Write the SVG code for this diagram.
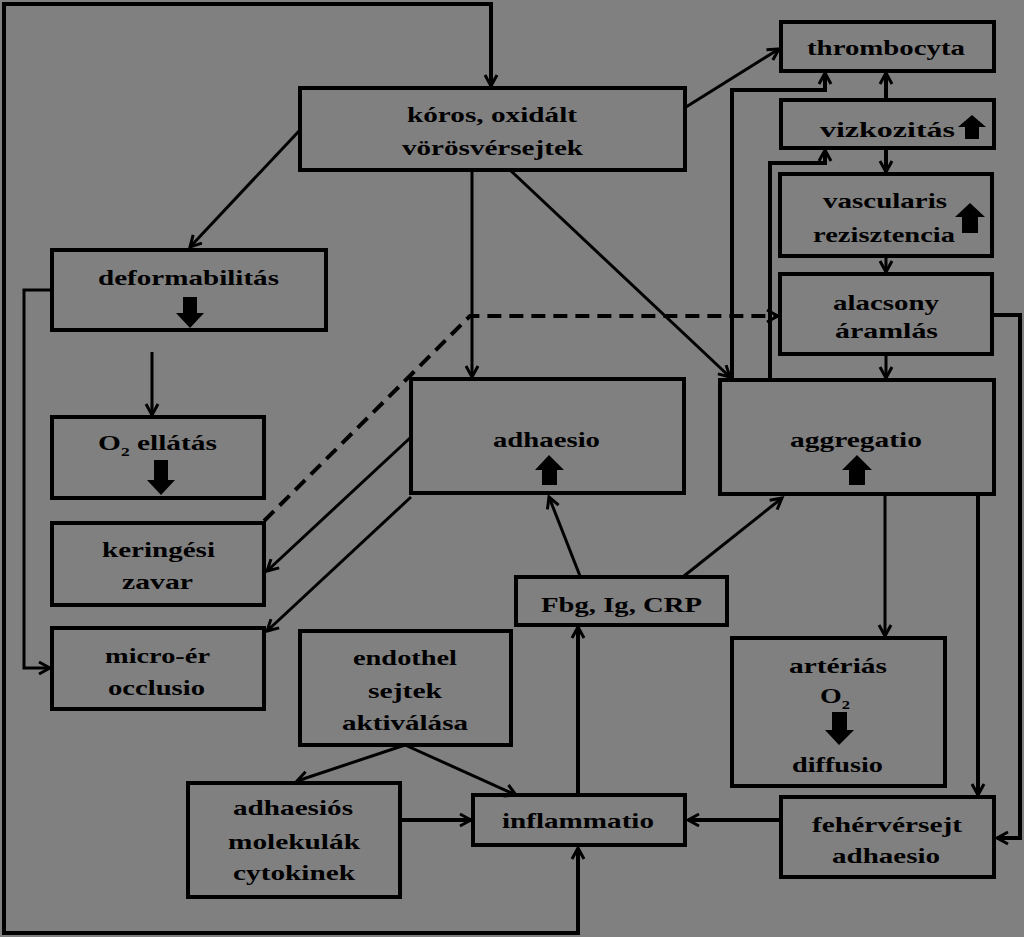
<svg xmlns="http://www.w3.org/2000/svg" width="1024" height="937" viewBox="0 0 1024 937">
<style>
.bg{fill:#808080}
.box{fill:none;stroke:#000;stroke-width:4}
.t{font-family:"Liberation Serif","Times New Roman",serif;font-weight:bold;font-size:22px;fill:#000}
.sub{font-size:13px}
.c{fill:none;stroke:#000;stroke-width:3;marker-end:url(#ah)}
.thick{stroke-width:4}
.dash{stroke-dasharray:14 8;stroke-width:4}
.blk{fill:#000}
</style>
<defs>
<marker id="ah" markerUnits="userSpaceOnUse" markerWidth="16" markerHeight="16" refX="13" refY="8" orient="auto-start-reverse">
<path d="M2,2 L13,8 L2,14" fill="none" stroke="#000" stroke-width="3"/>
</marker>
</defs>
<rect class="bg" x="0" y="0" width="1024" height="937"/>

<g id="connectors">
<path class="c thick" style="marker-start:url(#ah)" d="M578,848 L578,933 L4,933 L4,4 L491,4 L491,86"/>
<path class="c" d="M300,130 L190,247"/>
<path class="c" d="M472,170 L472,377"/>
<path class="c" d="M510,170 L730,377"/>
<path class="c" d="M686,107 L779,49"/>
<path class="c thick" d="M732,380 L732,90 L825,90 L825,73"/>
<path class="c thick" d="M770,380 L770,163 L825,163 L825,150"/>
<path class="c thick" d="M886,100 L886,73"/>
<path class="c thick" d="M886,148 L886,172"/>
<path class="c" d="M886,256 L886,272"/>
<path class="c" d="M886,354 L886,378"/>
<path class="c dash" d="M264,521 L470,316 L778,316"/>
<path class="c thick" d="M994,315 L1020,315 L1020,838 L997,838"/>
<path class="c" d="M885,494 L885,636"/>
<path class="c thick" d="M978,494 L978,795"/>
<path class="c thick" d="M781,820 L688,820"/>
<path class="c thick" d="M578,795 L578,627"/>
<path class="c" d="M580,576 L549,497"/>
<path class="c" d="M684,576 L782,498"/>
<path class="c" d="M410,438 L267,571"/>
<path class="c" d="M411,497 L267,631"/>
<path class="c" d="M52,290 L24,290 L24,668 L50,668"/>
<path class="c" d="M152,352 L152,415"/>
<path class="c" d="M405,745 L297,781"/>
<path class="c" d="M405,745 L516,795"/>
<path class="c thick" d="M400,820 L471,820"/>
</g>

<g id="koros"><rect class="box" x="300" y="88" width="385" height="82"/>
<text class="t" x="407" y="122" textLength="170" lengthAdjust="spacingAndGlyphs">kóros, oxidált</text>
<text class="t" x="402" y="155" textLength="181" lengthAdjust="spacingAndGlyphs">vörösvérsejtek</text></g>

<g id="thrombocyta"><rect class="box" x="781" y="22" width="213" height="49"/>
<text class="t" x="807" y="55" textLength="158" lengthAdjust="spacingAndGlyphs">thrombocyta</text></g>

<g id="vizkozitas"><rect class="box" x="781" y="100" width="213" height="48"/>
<text class="t" x="820" y="137" textLength="135" lengthAdjust="spacingAndGlyphs">vizkozitás</text>
<path class="blk" d="M972,115 L986,127 L979,127 L979,139 L965,139 L965,127 L958,127 Z"/></g>

<g id="vascularis"><rect class="box" x="780" y="174" width="212" height="82"/>
<text class="t" x="823" y="208" textLength="124" lengthAdjust="spacingAndGlyphs">vascularis</text>
<text class="t" x="813" y="242" textLength="142" lengthAdjust="spacingAndGlyphs">rezisztencia</text>
<path class="blk" d="M970,203 L985,217 L978,217 L978,233 L962,233 L962,217 L955,217 Z"/></g>

<g id="alacsony"><rect class="box" x="780" y="274" width="212" height="80"/>
<text class="t" x="833" y="310" textLength="106" lengthAdjust="spacingAndGlyphs">alacsony</text>
<text class="t" x="835" y="338" textLength="103" lengthAdjust="spacingAndGlyphs">áramlás</text></g>

<g id="deformabilitas"><rect class="box" x="52" y="250" width="274" height="80"/>
<text class="t" x="98" y="285" textLength="181" lengthAdjust="spacingAndGlyphs">deformabilitás</text>
<path class="blk" d="M183,297 L197,297 L197,313 L204,313 L190,328 L176,313 L183,313 Z"/></g>

<g id="o2ellatas"><rect class="box" x="52" y="417" width="212" height="81"/>
<text class="t" x="98" y="450" textLength="119" lengthAdjust="spacingAndGlyphs">O<tspan class="sub" dy="6">2</tspan><tspan dy="-6"> ellátás</tspan></text>
<path class="blk" d="M154,460 L168,460 L168,480 L175,480 L161,495 L147,480 L154,480 Z"/></g>

<g id="keringesi"><rect class="box" x="52" y="523" width="212" height="82"/>
<text class="t" x="102" y="557" textLength="113" lengthAdjust="spacingAndGlyphs">keringési</text>
<text class="t" x="122" y="589" textLength="71" lengthAdjust="spacingAndGlyphs">zavar</text></g>

<g id="microer"><rect class="box" x="52" y="628" width="212" height="81"/>
<text class="t" x="105" y="663" textLength="105" lengthAdjust="spacingAndGlyphs">micro-ér</text>
<text class="t" x="108" y="695" textLength="97" lengthAdjust="spacingAndGlyphs">occlusio</text></g>

<g id="adhaesio"><rect class="box" x="411" y="379" width="273" height="114"/>
<text class="t" x="493" y="447" textLength="107" lengthAdjust="spacingAndGlyphs">adhaesio</text>
<path class="blk" d="M549,455 L564,470 L557,470 L557,485 L542,485 L542,470 L535,470 Z"/></g>

<g id="aggregatio"><rect class="box" x="720" y="380" width="274" height="114"/>
<text class="t" x="790" y="447" textLength="132" lengthAdjust="spacingAndGlyphs">aggregatio</text>
<path class="blk" d="M857,455 L872,470 L865,470 L865,485 L849,485 L849,470 L842,470 Z"/></g>

<g id="fbg"><rect class="box" x="516" y="577" width="211" height="48"/>
<text class="t" x="541" y="612" textLength="161" lengthAdjust="spacingAndGlyphs">Fbg, Ig, CRP</text></g>

<g id="endothel"><rect class="box" x="300" y="631" width="211" height="114"/>
<text class="t" x="353" y="665" textLength="104" lengthAdjust="spacingAndGlyphs">endothel</text>
<text class="t" x="368" y="698" textLength="74" lengthAdjust="spacingAndGlyphs">sejtek</text>
<text class="t" x="342" y="730" textLength="126" lengthAdjust="spacingAndGlyphs">aktiválása</text></g>

<g id="adhaesios"><rect class="box" x="188" y="783" width="212" height="114"/>
<text class="t" x="233" y="815" textLength="120" lengthAdjust="spacingAndGlyphs">adhaesiós</text>
<text class="t" x="228" y="849" textLength="132" lengthAdjust="spacingAndGlyphs">molekulák</text>
<text class="t" x="233" y="880" textLength="122" lengthAdjust="spacingAndGlyphs">cytokinek</text></g>

<g id="inflammatio"><rect class="box" x="473" y="795" width="212" height="50"/>
<text class="t" x="502" y="828" textLength="152" lengthAdjust="spacingAndGlyphs">inflammatio</text></g>

<g id="arterias"><rect class="box" x="732" y="638" width="213" height="148"/>
<text class="t" x="789" y="673" textLength="98" lengthAdjust="spacingAndGlyphs">artériás</text>
<text class="t" x="820" y="703" textLength="30" lengthAdjust="spacingAndGlyphs">O<tspan class="sub" dy="6">2</tspan></text>
<path class="blk" d="M832,712 L847,712 L847,730 L854,730 L839,745 L825,730 L832,730 Z"/>
<text class="t" x="792" y="772" textLength="91" lengthAdjust="spacingAndGlyphs">diffusio</text></g>

<g id="feher"><rect class="box" x="781" y="797" width="213" height="80"/>
<text class="t" x="812" y="832" textLength="150" lengthAdjust="spacingAndGlyphs">fehérvérsejt</text>
<text class="t" x="832" y="863" textLength="108" lengthAdjust="spacingAndGlyphs">adhaesio</text></g>
</svg>
